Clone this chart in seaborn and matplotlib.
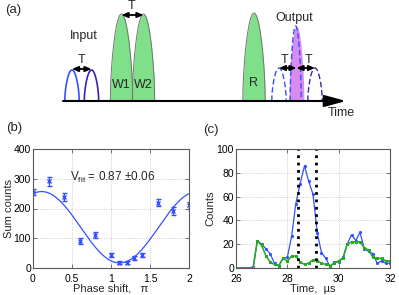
import numpy as np
import pandas as pd
import matplotlib
matplotlib.use("Agg")
import matplotlib.pyplot as plt
import seaborn as sns

# ---- panel (b): interference fringe ----
phase = [0.0, 0.2, 0.4, 0.6, 0.8, 1.0, 1.1, 1.2, 1.3, 1.4, 1.6, 1.8, 2.0]
sum_counts = [257, 292, 238, 92, 111, 45, 17, 18, 34, 45, 219, 191, 211]
sum_err = [10, 15, 14, 10, 10, 7, 5, 5, 6, 7, 12, 13, 11]
# fitted fringe: offset + amp*cos(pi*(x - x0))
fit_offset, fit_amp, fit_phase0 = 137, 120, 0.11

# ---- panel (c): time traces ----
time_us = [26.00, 26.17, 26.33, 26.50, 26.67, 26.83, 27.00, 27.17, 27.33, 27.50,
           27.67, 27.83, 28.00, 28.17, 28.33, 28.50, 28.67, 28.83, 29.00, 29.17,
           29.33, 29.50, 29.67, 29.83, 30.00, 30.17, 30.33, 30.50, 30.67, 30.83,
           31.00, 31.17, 31.33, 31.50, 31.67, 31.83, 32.00]
counts_blue = [0, 0, 0, 0, 1, 23, 20, 16, 12, 4, 2, 8, 9, 27, 54, 71, 86, 73, 62, 29,
               13, 8, 1, 5, 5, 9, 20, 28, 23, 30, 16, 14, 12, 4, 6, 4, 4]
counts_green = [0, 0, 0, 0, 0, 23, 19, 10, 5, 3, 2, 8, 6, 10, 10, 5, 3, 4, 7, 6,
                4, 3, 2, 4, 6, 8, 20, 22, 22, 22, 17, 15, 9, 8, 8, 6, 6]
window = [28.42, 29.12]

# ---- panel (a): pulse sequence (timeline units) ----
input_centres = [72, 91.5]
write_centres = [121.5, 143.5]
read_centre = 254
echo_centres = [279, 315]
output_centre = 296.5

BLUE = "#3450ff"
INDIGO = "#3a22b8"
GREEN = "#22aa22"
PULSE_GREEN = "#80e08a"
MAGENTA = "#d98cf0"

sns.set_theme(style="ticks")
plt.rcParams['font.family'] = ['Liberation Sans', 'DejaVu Sans']
plt.rcParams['mathtext.default'] = 'regular'

fig = plt.figure(figsize=(3.99, 2.95), dpi=100)

# ================= (a) =================
ax_a = fig.add_axes([0, 1 - 120 / 295, 1, 120 / 295])
ax_a.set_xlim(0, 399)
ax_a.set_ylim(120, 0)
ax_a.axis('off')
base = 101


def arch(ax, centre, half, height, fill=None, edge='0.4', ls='-', lw=1.0):
    u = np.linspace(-1, 1, 121)
    x = centre + half * u
    y = base - height * np.cos(np.pi / 2 * u) ** 0.55
    if fill is not None:
        ax.fill_between(x, base, y, color=fill, lw=0)
    if edge is not None:
        ax.plot(x, y, color=edge, ls=ls, lw=lw)


def tarrow(ax, x0, x1, y):
    ax.annotate('', xy=(x1, y), xytext=(x0, y),
                arrowprops=dict(arrowstyle='<|-|>,head_length=0.3,head_width=0.13',
                                color='black', lw=1.3, shrinkA=0, shrinkB=0))


arch(ax_a, input_centres[0], 7.2, 31, edge=BLUE, lw=1.2)
arch(ax_a, input_centres[1], 7.2, 31, edge=INDIGO, lw=1.2)
for c in write_centres:
    arch(ax_a, c, 11.2, 87, fill=PULSE_GREEN, edge='0.45', lw=0.7)
arch(ax_a, read_centre, 11.2, 88, fill=PULSE_GREEN, edge='0.45', lw=0.7)
arch(ax_a, output_centre, 7.4, 75, fill=MAGENTA, edge=None)
arch(ax_a, output_centre - 0.8, 5.5, 75, edge=BLUE, ls=(0, (4, 2)), lw=1.0)
arch(ax_a, echo_centres[0], 7.2, 33, edge=BLUE, ls=(0, (4, 2)), lw=1.0)
arch(ax_a, echo_centres[1], 7.2, 33, edge=INDIGO, ls=(0, (4, 2)), lw=1.0)

ax_a.annotate('', xy=(346, base), xytext=(63, base),
              arrowprops=dict(arrowstyle='-|>,head_length=1.1,head_width=0.3',
                              color='black', lw=1.5, shrinkA=0, shrinkB=0))

tarrow(ax_a, input_centres[0], input_centres[1], 69)
tarrow(ax_a, write_centres[0], write_centres[1], 15)
tarrow(ax_a, echo_centres[0], output_centre, 68)
tarrow(ax_a, output_centre, echo_centres[1], 68)

fs = 9
ax_a.text(5, 10, '(a)', fontsize=fs + 0.5, va='center', ha='left')
ax_a.text(84, 36, 'Input', fontsize=fs, ha='center', va='center')
ax_a.text(82, 60, 'T', fontsize=fs, ha='center', va='center')
ax_a.text(131.5, 6, 'T', fontsize=fs, ha='center', va='center')
ax_a.text(121.5, 85, 'W1', fontsize=fs, ha='center', va='center')
ax_a.text(143.5, 85, 'W2', fontsize=fs, ha='center', va='center')
ax_a.text(253, 83, 'R', fontsize=fs, ha='center', va='center')
ax_a.text(294, 18, 'Output', fontsize=fs, ha='center', va='center')
ax_a.text(285, 60, 'T', fontsize=fs, ha='center', va='center')
ax_a.text(308.5, 60, 'T', fontsize=fs, ha='center', va='center')
ax_a.text(341, 113, 'Time', fontsize=fs, ha='center', va='center')

fig.text(6 / 399, 1 - 128 / 295, '(b)', fontsize=fs + 0.5, va='center')
fig.text(203 / 399, 1 - 130 / 295, '(c)', fontsize=fs + 0.5, va='center')


def style_box(ax):
    for s in ax.spines.values():
        s.set_visible(True)
        s.set_color('0.35')
        s.set_linewidth(0.8)
    ax.tick_params(direction='in', length=3, width=0.6, labelsize=7.5, pad=1.5,
                   top=True, right=True, colors='0.35', labelcolor='black')
    ax.tick_params(axis='x', pad=4)
    ax.grid(True, ls=':', color='0.75', lw=0.6)


# ================= (b) =================
ax_b = fig.add_axes([33 / 399, 27 / 295, 156 / 399, 119 / 295])
xs = np.linspace(0, 2, 200)
fit_df = pd.DataFrame({'phase': xs,
                       'counts': fit_offset + fit_amp * np.cos(np.pi * (xs - fit_phase0))})
sns.lineplot(data=fit_df, x='phase', y='counts', ax=ax_b, color=BLUE, lw=0.9)
ax_b.errorbar(phase, sum_counts, yerr=sum_err, fmt='x', color=BLUE, ms=3.5,
              mew=1.0, elinewidth=0.9, capsize=1.8, capthick=0.9)
ax_b.set_xlim(0, 2)
ax_b.set_ylim(0, 400)
ax_b.set_xticks([0, 0.5, 1, 1.5, 2])
ax_b.set_xticklabels(['0', '0.5', '1', '1.5', '2'])
ax_b.set_yticks([0, 100, 200, 300, 400])
ax_b.set_xlabel('Phase shift,   π', fontsize=8, labelpad=0)
ax_b.set_ylabel('Sum counts', fontsize=8, labelpad=0)
ax_b.text(0.47, 305, 'V$_{fit}$ = 0.87 ±0.06', fontsize=8.5, va='center')
style_box(ax_b)

# ================= (c) =================
ax_c = fig.add_axes([236 / 399, 27 / 295, 154 / 399, 119 / 295])
trace_df = pd.DataFrame({'time': time_us, 'blue': counts_blue, 'green': counts_green})
sns.lineplot(data=trace_df, x='time', y='blue', ax=ax_c, color=BLUE, lw=0.9,
             marker='o', ms=1.5, mec=BLUE)
sns.lineplot(data=trace_df, x='time', y='green', ax=ax_c, color=GREEN, lw=1.1,
             marker='s', ms=1.8, mec=GREEN)
for w in window:
    ax_c.axvline(w, color='black', ls=':', lw=2.0)
ax_c.set_xlim(26, 32)
ax_c.set_ylim(0, 100)
ax_c.set_xticks([26, 28, 30, 32])
ax_c.set_yticks([0, 20, 40, 60, 80, 100])
ax_c.set_xlabel('Time,  µs', fontsize=8, labelpad=0)
ax_c.set_ylabel('Counts', fontsize=8, labelpad=1)
style_box(ax_c)

fig.savefig('out.png', dpi=100)
